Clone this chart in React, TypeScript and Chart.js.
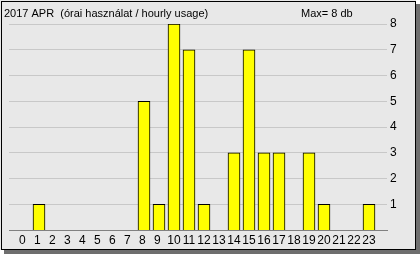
import React, { useEffect, useRef } from "react";
import { Chart, registerables } from "chart.js";

Chart.register(...registerables);

const hours = [0, 1, 2, 3, 4, 5, 6, 7, 8, 9, 10, 11, 12, 13, 14, 15, 16, 17, 18, 19, 20, 21, 22, 23];
const usage = [0, 1, 0, 0, 0, 0, 0, 0, 5, 1, 8, 7, 1, 0, 3, 7, 3, 3, 0, 3, 1, 0, 0, 1];
const yTicks = [1, 2, 3, 4, 5, 6, 7, 8];
const titleText = "2017 APR  (órai használat / hourly usage)";
const maxText = "Max= 8 db";

const FONT = "'Liberation Sans', Arial, sans-serif";

const framePlugin = {
  id: "frame",
  beforeDraw(chart: any) {
    const ctx = chart.ctx;
    const W = chart.width;
    const H = chart.height;
    ctx.save();
    ctx.fillStyle = "#6e6e6e";
    ctx.fillRect(4, 4, W - 4, H - 4);
    ctx.fillStyle = "#e8e8e8";
    ctx.fillRect(0, 0, W - 4, H - 4);
    ctx.strokeStyle = "#000000";
    ctx.lineWidth = 1;
    ctx.strokeRect(1.5, 1.5, W - 6, H - 6);
    ctx.fillStyle = "#000000";
    ctx.font = "11px " + FONT;
    ctx.textBaseline = "middle";
    ctx.textAlign = "left";
    ctx.fillText(titleText, 4, 14);
    ctx.fillText(maxText, 301, 14);
    ctx.restore();
  },
};

export default function App() {
  const ref = useRef<HTMLCanvasElement | null>(null);
  useEffect(() => {
    if (!ref.current) return;
    const chart = new Chart(ref.current, {
      type: "bar",
      data: {
        datasets: [
          {
            data: hours.map((h, i) => ({ x: h, y: usage[i] })),
            backgroundColor: "#ffff00",
            borderColor: "#000000",
            borderWidth: 1,
            barThickness: 12,
          },
        ],
      },
      options: {
        animation: false,
        responsive: false,
        devicePixelRatio: 1,
        layout: { padding: { left: 9, top: 24, right: 0, bottom: 0 } },
        plugins: { legend: { display: false }, tooltip: { enabled: false }, title: { display: false } },
        scales: {
          x: {
            type: "linear",
            offset: false,
            min: -1,
            max: 24.2,
            afterBuildTicks: (s: any) => {
              s.ticks = hours.map((v) => ({ value: v }));
            },
            afterFit: (s: any) => {
              s.height = 24;
            },
            ticks: {
              autoSkip: false,
              maxRotation: 0,
              padding: 3,
              color: "#000000",
              font: { family: FONT, size: 12 },
              callback: (v: any) => (v < 10 ? v + " " : String(v)),
            },
            grid: { display: false, drawTicks: false, offset: false },
            border: { display: true, color: "#808080", width: 1 },
          },
          y: {
            position: "right",
            min: 0,
            max: 8,
            afterBuildTicks: (s: any) => {
              s.ticks = yTicks.map((v) => ({ value: v }));
            },
            afterFit: (s: any) => {
              s.width = 33;
            },
            ticks: {
              padding: 3,
              color: "#000000",
              font: { family: FONT, size: 12 },
            },
            grid: { color: "#c8c8c8", drawTicks: false },
            border: { display: false },
          },
        },
      },
      plugins: [framePlugin],
    } as any);
    return () => chart.destroy();
  }, []);
  return (
    <div style={{ position: "fixed", left: 0, top: 0, width: 420, height: 254 }}>
      <canvas ref={ref} width={420} height={254} style={{ width: 420, height: 254 }} />
    </div>
  );
}
